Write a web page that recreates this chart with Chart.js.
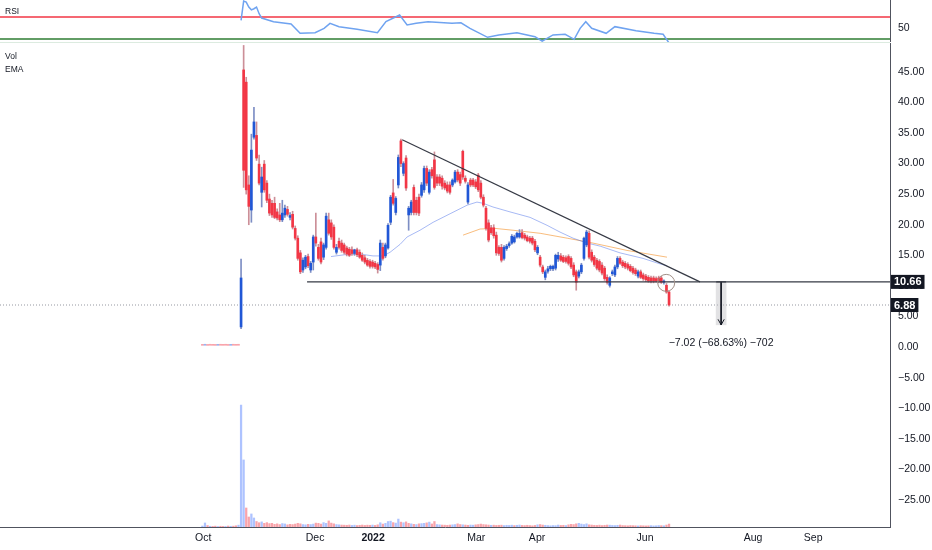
<!DOCTYPE html>
<html>
<head>
<meta charset="utf-8">
<script src="https://cdn.jsdelivr.net/npm/chart.js@4.4.1/dist/chart.umd.min.js"></script>
<style>
  html, body { margin: 0; padding: 0; background: #fff; }
  #wrap { position: relative; width: 932px; height: 550px; overflow: hidden; font-family: "Liberation Sans", Arial, sans-serif; }
  #rsiChart { position: absolute; left: 0; top: 0; }
  #mainChart { position: absolute; left: 0; top: 43px; }
  #sep { position: absolute; left: 0; top: 42px; width: 890px; height: 1px; background: #dcebe0; }
  .pane-label { position: absolute; left: 5px; font-size: 8.5px; color: #131722; }
</style>
</head>
<body>
<div id="wrap">
  <canvas id="rsiChart" width="932" height="42"></canvas>
  <div id="sep"></div>
  <canvas id="mainChart" width="932" height="507"></canvas>
  <div class="pane-label" style="top:6px">RSI</div>
  <div class="pane-label" style="top:51px">Vol</div>
  <div class="pane-label" style="top:64px">EMA</div>
</div>
<script>
// daily candles, first 15 are the tiny pre-listing prints
const FIRST_INDEX = -15;
const PRE_COUNT = 15;

const OPEN = [
  0.31,0.30,0.29,0.31,0.30,0.30,0.29,0.31,0.30,0.32,0.30,0.29,0.31,0.30,0.31,
  3.3,45.3,43.3,26.5,22.4,34.3,34.6,29.9,25.3,29.9,
  26.8,24.2,23.5,23.5,22.1,21.6,20.8,21.6,22.5,21.2,
  21.7,19.4,17.8,15.4,12.6,13.1,14.8,12.6,13.9,18.0,
  16.3,17.2,14.7,16.3,20.8,20.3,19.6,15.5,17.3,17.0,
  16.7,16.2,16.0,15.9,15.3,15.9,15.5,15.0,14.6,14.2,
  14.0,13.9,13.7,13.5,13.4,16.3,14.9,16.2,20.4,25.2,
  22.0,26.5,33.7,28.4,30.9,21.6,22.0,26.1,24.0,24.5,
  24.8,25.7,29.2,25.3,29.0,30.6,27.8,27.8,27.6,26.8,
  26.5,26.5,26.5,27.0,28.6,28.2,32.0,27.6,23.7,27.3,
  27.3,27.0,28.1,26.8,24.5,22.7,20.3,19.5,19.5,18.3,
  16.3,16.3,14.5,16.1,16.6,17.0,17.2,18.0,18.0,18.7,
  18.3,18.0,17.8,17.8,17.3,15.4,14.7,13.1,11.4,12.4,
  12.8,12.8,12.9,14.4,14.9,14.7,14.6,14.8,14.5,13.4,
  12.3,11.6,12.3,14.5,16.7,18.6,15.5,14.7,14.2,14.0,
  13.4,12.9,11.4,10.1,12.0,11.8,13.1,14.5,13.9,13.7,
  13.5,13.2,12.9,12.6,11.6,12.3,11.8,11.6,11.4,11.3,
  11.3,11.2,11.3,11.3,10.6,10.1,9.0
];
const HIGH = [
  0.35,0.35,0.33,0.34,0.33,0.33,0.34,0.34,0.33,0.35,0.33,0.34,0.34,0.33,0.34,
  14.4,49.3,44.1,28.0,34.8,39.2,36.8,31.4,29.4,30.5,
  27.2,25.0,24.0,24.5,22.6,23.5,24.0,23.2,23.0,22.0,
  22.2,19.8,18.2,15.8,14.6,15.0,15.2,14.0,18.3,21.9,
  16.8,17.8,17.0,21.9,21.9,20.8,20.0,16.8,17.8,17.5,
  17.0,16.5,16.3,16.4,16.0,16.2,15.9,15.4,15.0,14.5,
  14.3,14.2,14.0,13.8,17.5,17.0,17.0,20.2,24.8,27.4,
  24.6,31.4,34.0,30.3,31.3,23.0,24.0,26.5,24.5,25.0,
  26.9,29.6,29.6,29.0,29.4,31.9,28.2,28.2,28.0,27.2,
  27.0,27.0,27.5,28.9,29.0,28.6,32.2,28.0,26.9,27.6,
  27.6,27.4,28.4,27.2,24.9,23.0,20.8,19.9,20.0,18.8,
  16.6,16.8,16.6,16.8,17.2,18.4,18.3,18.8,19.2,19.2,
  18.6,18.3,18.1,18.1,17.6,16.6,15.0,13.4,12.6,13.2,
  13.4,13.4,15.2,15.5,15.3,15.0,14.9,15.1,14.8,13.8,
  12.6,12.6,13.7,18.0,19.1,19.0,15.9,15.0,14.5,14.3,
  13.8,13.2,11.8,11.5,12.6,13.4,14.8,14.8,14.2,14.0,
  13.8,13.5,13.2,12.9,12.6,12.6,12.1,11.9,11.7,11.6,
  11.6,11.5,11.6,11.6,11.0,10.4,9.2
];
const LOW = [
  0.26,0.27,0.25,0.27,0.26,0.25,0.26,0.27,0.26,0.27,0.25,0.26,0.27,0.26,0.27,
  3.0,26.1,25.0,20.0,20.4,34.0,30.5,26.5,22.9,25.3,
  23.6,21.5,21.2,21.0,20.8,20.5,20.5,21.2,21.4,20.8,
  19.3,17.5,14.2,12.0,12.2,12.8,13.0,12.2,12.6,16.5,
  14.2,13.6,14.3,16.0,18.3,17.6,16.0,15.2,16.0,15.5,
  15.2,14.9,14.8,15.0,15.0,14.8,14.5,14.0,13.6,13.2,
  12.9,12.9,12.8,12.1,12.5,14.2,14.6,16.0,20.0,23.2,
  21.6,26.0,29.5,28.0,25.6,19.1,21.6,21.6,21.6,21.5,
  24.5,25.3,26.4,25.0,27.6,25.8,26.4,26.4,25.8,25.7,
  25.2,25.0,26.2,26.8,27.0,26.4,27.4,26.8,23.4,26.2,
  26.2,25.9,25.4,24.2,22.9,19.1,17.2,18.4,17.8,15.0,
  15.0,13.9,14.2,15.8,16.3,16.8,17.0,17.8,17.8,17.7,
  17.5,17.2,17.0,16.7,15.6,15.1,13.1,12.0,11.0,12.1,
  12.5,12.5,12.6,14.0,14.0,13.8,13.7,13.4,12.8,11.5,
  9.3,11.3,12.0,14.2,16.4,14.4,13.9,13.2,12.6,12.3,
  11.8,10.9,10.3,9.8,11.7,11.5,12.8,13.5,13.0,12.8,
  12.6,12.3,11.9,11.7,11.3,11.2,10.9,10.7,10.6,10.5,
  10.5,10.6,10.5,10.4,10.3,8.8,6.7
];
const CLOSE = [
  0.29,0.32,0.28,0.30,0.29,0.28,0.31,0.30,0.29,0.30,0.28,0.31,0.30,0.29,0.30,
  11.3,28.9,25.7,23.0,32.2,36.8,30.9,26.8,27.8,25.7,
  24.0,21.9,21.6,21.2,21.1,20.8,21.9,22.7,21.7,21.5,
  19.6,17.8,14.5,12.3,14.2,14.7,13.3,13.7,18.0,17.0,
  14.5,13.9,16.7,21.4,18.6,18.0,16.3,16.3,16.3,15.8,
  15.5,15.2,15.0,15.3,15.9,15.1,14.7,14.2,13.9,13.4,
  13.2,13.2,13.1,12.7,17.0,14.5,16.7,19.9,24.5,23.5,
  24.3,31.0,30.0,30.0,26.0,22.7,23.7,22.0,22.0,21.9,
  26.5,29.2,26.8,28.6,28.0,26.1,26.8,26.8,26.3,26.0,
  25.5,25.3,27.3,28.6,27.3,26.8,27.8,27.1,26.5,26.5,
  26.5,26.2,25.7,24.5,23.2,19.4,17.5,18.7,18.2,15.4,
  15.3,14.2,16.3,16.5,16.9,18.1,18.0,18.6,18.6,17.9,
  17.8,17.4,17.3,17.0,15.9,16.3,13.4,12.3,12.3,12.8,
  13.2,13.2,15.0,15.0,14.2,14.0,14.0,13.7,13.1,11.8,
  10.6,12.3,13.4,17.8,18.8,14.7,14.2,13.5,12.9,12.6,
  12.1,11.2,10.6,11.3,12.3,13.1,14.5,13.7,13.3,13.1,
  12.9,12.5,12.2,12.0,12.3,11.4,11.2,11.0,10.8,10.8,
  10.8,10.8,10.8,10.6,10.8,9.0,6.88
];
const VOLUME = [
  0.8,3.3,1.2,0.6,0.5,0.7,0.4,0.6,0.5,0.5,0.8,0.6,0.7,1.0,1.5,
  100,55,15.6,8.2,10.7,7.4,4.5,3.5,4.2,3.0,
  3.6,2.8,3.0,2.2,2.6,2.0,2.8,2.5,1.8,2.2,
  2.0,2.4,3.0,2.6,2.0,1.8,2.2,2.0,2.4,3.2,
  3.0,2.4,3.6,3.0,5.0,3.2,2.6,2.0,1.8,1.6,
  1.5,1.4,1.6,1.3,1.5,1.2,1.4,1.6,1.3,1.5,
  1.4,1.6,1.3,1.8,3.5,2.4,3.0,4.5,4.8,3.6,
  3.2,6.5,4.0,3.5,4.2,3.0,2.6,2.2,2.0,2.6,
  2.8,3.0,3.4,4.0,2.5,4.5,2.0,1.8,1.6,1.5,
  1.4,1.6,1.8,2.0,2.6,2.0,1.8,1.6,1.4,1.6,
  1.5,1.8,2.0,2.4,2.0,1.8,1.6,1.4,1.5,1.3,
  1.4,1.5,1.2,1.4,1.3,1.5,1.2,1.4,1.6,1.3,
  1.2,1.4,1.2,1.0,1.3,1.8,2.0,1.6,1.4,1.2,
  1.0,1.2,1.1,1.6,1.3,1.4,1.2,1.8,2.2,2.0,
  2.6,3.0,2.4,2.0,2.6,1.8,1.6,1.4,1.3,1.5,
  1.2,1.4,1.6,1.5,1.3,1.2,1.4,1.6,1.2,1.1,
  1.0,1.2,1.1,1.0,0.9,1.1,1.0,0.9,1.0,1.1,
  0.9,1.0,1.2,1.1,1.0,1.6,2.4
];

// moving averages (candle index, price)
const EMA_FAST_AT = [34.9,40.3,46.2,51.2,55.1,57.8,61.7,64.4,69.4,74.5,81.1,87.7,91.5,93.9,97.7,104.3,112.1,118.7,123.7,128.8,134.2,139.3,147,155.9,162.5,165.2];
const EMA_FAST = [14.8,15.1,15.2,14.9,14.9,15.5,16.8,18.0,19.1,20.4,21.8,23.2,23.7,23.5,22.9,22.1,21.2,19.9,18.8,17.8,17.0,16.5,15.4,14.5,13.6,13.3];
const EMA_SLOW_AT = [86.1,92.7,98.5,105.5,116,126.5,136.5,149.7,165.2];
const EMA_SLOW = [18.3,19.3,19.4,19.1,18.6,17.8,17.0,15.8,14.7];

// RSI pane
const RSI_AT = [0,1,2,3,4,5,6,7,8,12.6,19.4,22.9,28.7,32.2,34.5,38,45,52.9,56.2,61.5,64.4,67.9,72.5,81.8,85.3,88.8,95.6,100,107,114,116.8,121,125.7,129.2,131.5,133.7,136,141.6,145,153.2,160.2,163.7,166];
const RSI = [64,99,97,88,83,85,88,76,68,61.5,57.3,40.3,41.5,49.4,58.5,52.4,47.6,41.5,61.5,73.6,55.5,58.5,61.5,58.5,59.5,49.4,33,37.3,41.5,34.2,26,37.3,38.5,29.4,49.4,61.5,49.4,40.3,52.4,45.1,40.3,38.5,22.7];
const RSI_UPPER = 70;
const RSI_LOWER = 30;

// time axis
const DATE_LABELS = ["Oct", "Dec", "2022", "Mar", "Apr", "Jun", "Aug", "Sep"];
const DATE_AT = [-14.7, 28.7, 51.2, 91.2, 114.8, 156.7, 198.6, 221.9];
const X_MIN = -93.5, X_MAX = 251.7;
const Y_MIN = -29.4, Y_MAX = 49.7;
const RSI_MIN = 24.5, RSI_MAX = 100.9;
const VOL_MAX = 397;

// drawings
const SUPPORT = 10.66;
const LAST_PRICE = 6.88;
const SUPPORT_FROM = 25.6;
const TREND = [{x: 62.5, y: 33.9}, {x: 178, y: 10.66}];
const CIRCLE = {x: 164.9, y: 10.5};
const MEASURE_AT = 186.2;
const MEASURE_TOP = 10.66, MEASURE_BOTTOM = 3.64;
const MEASURE_TEXT = "\u22127.02 (\u221268.63%) \u2212702";
const MEASURE_TEXT_AT = 0.65;

const UP = "#2157d6", DOWN = "#f23645";
const PRE_UP = "rgba(33,87,214,0.45)", PRE_DOWN = "rgba(242,54,69,0.45)";
const WICK_UP = "#7d8ec4", WICK_DOWN = "#cc8f98";
const VOL_UP = "rgba(41,98,255,0.38)", VOL_DOWN = "rgba(242,54,69,0.45)";
const AXIS = "#50535e";
const FONT = "'Liberation Sans', Arial, sans-serif";

function fmtPrice(v) {
  const s = Math.abs(v).toFixed(2);
  return v < 0 ? "\u2212" + s : s;
}

const idx = OPEN.map((_, k) => k + FIRST_INDEX);
const up = k => CLOSE[k] >= OPEN[k];
const volUp = k => k === 0 || CLOSE[k] >= CLOSE[k - 1];
const bodyColor = k => k < PRE_COUNT ? (up(k) ? PRE_UP : PRE_DOWN) : (up(k) ? UP : DOWN);

function noPad(width) {
  return s => {
    if (width) s.width = width;
    s.paddingTop = 0; s.paddingBottom = 0; s.paddingLeft = 0; s.paddingRight = 0;
  };
}

const overlay = {
  id: "overlay",
  afterDraw(chart) {
    const {ctx, chartArea} = chart;
    const x = chart.scales.x, y = chart.scales.y;
    ctx.save();
    ctx.font = "10.5px " + FONT;
    ctx.fillStyle = "#131722";
    ctx.textAlign = "center";
    ctx.textBaseline = "middle";
    ctx.fillText(MEASURE_TEXT, x.getPixelForValue(MEASURE_AT), y.getPixelForValue(MEASURE_TEXT_AT));
    [SUPPORT, LAST_PRICE].forEach(v => {
      const py = y.getPixelForValue(v);
      const t = v.toFixed(2);
      ctx.font = "bold 11px " + FONT;
      const w = ctx.measureText(t).width + 6;
      ctx.fillStyle = "#131722";
      ctx.fillRect(chartArea.right + 1, py - 7, w, 14);
      ctx.fillStyle = "#ffffff";
      ctx.textAlign = "left";
      ctx.fillText(t, chartArea.right + 4, py + 0.5);
    });
    ctx.restore();
  }
};

new Chart(document.getElementById("mainChart"), {
  type: "bar",
  data: {
    datasets: [
      {
        label: "Vol",
        yAxisID: "yv",
        data: idx.map((x, k) => ({x, y: VOLUME[k]})),
        backgroundColor: c => volUp(c.dataIndex) ? VOL_UP : VOL_DOWN,
        barThickness: 1.6,
        grouped: false,
        order: 10
      },
      {
        type: "line",
        label: "EMA fast",
        data: EMA_FAST_AT.map((x, k) => ({x, y: EMA_FAST[k]})),
        borderColor: "rgba(60,100,230,0.45)",
        borderWidth: 1,
        pointRadius: 0,
        order: 6
      },
      {
        type: "line",
        label: "EMA slow",
        data: EMA_SLOW_AT.map((x, k) => ({x, y: EMA_SLOW[k]})),
        borderColor: "rgba(245,160,70,0.7)",
        borderWidth: 1,
        pointRadius: 0,
        order: 6
      },
      {
        label: "wick",
        data: idx.map((x, k) => ({x, y: [LOW[k], HIGH[k]]})),
        backgroundColor: c => c.dataIndex < PRE_COUNT ? "rgba(0,0,0,0)" : (up(c.dataIndex) ? WICK_UP : WICK_DOWN),
        barThickness: 1,
        grouped: false,
        order: 4
      },
      {
        label: "body",
        data: idx.map((x, k) => ({x, y: [OPEN[k], CLOSE[k]]})),
        backgroundColor: c => bodyColor(c.dataIndex),
        barThickness: 2,
        minBarLength: 1,
        grouped: false,
        order: 3
      },
      {
        label: "measure",
        data: [{x: MEASURE_AT, y: [MEASURE_BOTTOM, MEASURE_TOP]}],
        backgroundColor: "rgba(190,190,195,0.45)",
        barThickness: 10,
        grouped: false,
        order: 5
      },
      {
        type: "line",
        label: "last",
        data: [{x: X_MIN, y: LAST_PRICE}, {x: X_MAX, y: LAST_PRICE}],
        borderColor: "#9598a1",
        borderWidth: 1,
        borderDash: [1, 2],
        pointRadius: 0,
        order: 7
      },
      {
        type: "line",
        label: "support",
        data: [{x: SUPPORT_FROM, y: SUPPORT}, {x: X_MAX, y: SUPPORT}],
        borderColor: "#363a45",
        borderWidth: 1.2,
        pointRadius: 0,
        order: 1
      },
      {
        type: "line",
        label: "trend",
        data: TREND,
        borderColor: "#363a45",
        borderWidth: 1.2,
        pointRadius: 0,
        order: 1
      },
      {
        type: "line",
        label: "arrow",
        data: [{x: MEASURE_AT, y: MEASURE_TOP}, {x: MEASURE_AT, y: MEASURE_BOTTOM}],
        borderColor: "#131722",
        borderWidth: 1,
        pointRadius: 0,
        order: 1
      },
      {
        type: "line",
        label: "arrow cap",
        data: [{x: MEASURE_AT - 1.9, y: MEASURE_TOP}, {x: MEASURE_AT + 1.9, y: MEASURE_TOP}],
        borderColor: "#131722",
        borderWidth: 1,
        pointRadius: 0,
        order: 1
      },
      {
        type: "line",
        label: "arrow head",
        data: [{x: MEASURE_AT - 1.2, y: MEASURE_BOTTOM + 0.9}, {x: MEASURE_AT, y: MEASURE_BOTTOM}, {x: MEASURE_AT + 1.2, y: MEASURE_BOTTOM + 0.9}],
        borderColor: "#131722",
        borderWidth: 1,
        pointRadius: 0,
        order: 1
      },
      {
        type: "line",
        label: "circle",
        data: [CIRCLE],
        showLine: false,
        pointRadius: 8.5,
        pointBorderWidth: 1,
        pointBorderColor: "#a08e86",
        pointBackgroundColor: "rgba(0,0,0,0)",
        order: 0
      }
    ]
  },
  options: {
    responsive: false,
    animation: false,
    layout: {padding: 0, autoPadding: false},
    plugins: {legend: {display: false}, tooltip: {enabled: false}},
    scales: {
      x: {
        type: "linear",
        min: X_MIN,
        max: X_MAX,
        offset: false,
        grid: {display: false, drawTicks: false},
        border: {display: true, color: AXIS},
        ticks: {
          autoSkip: false,
          maxRotation: 0,
          padding: 5,
          color: "#131722",
          font: c => ({family: FONT, size: 10.5, weight: DATE_LABELS[c.index] === "2022" ? "bold" : "normal"}),
          callback: (v, i) => DATE_LABELS[i]
        },
        afterBuildTicks: s => { s.ticks = DATE_AT.map(v => ({value: v})); },
        afterFit: s => { s.height = 23; s.paddingLeft = 0; s.paddingRight = 0; }
      },
      y: {
        position: "right",
        min: Y_MIN,
        max: Y_MAX,
        grid: {display: false, drawTicks: false},
        border: {display: true, color: AXIS},
        ticks: {
          stepSize: 5,
          includeBounds: false,
          padding: 8,
          color: "#131722",
          font: {family: FONT, size: 10.5},
          callback: v => fmtPrice(v)
        },
        afterFit: noPad(42)
      },
      yv: {display: false, min: 0, max: VOL_MAX}
    }
  },
  plugins: [overlay]
});

new Chart(document.getElementById("rsiChart"), {
  type: "line",
  data: {
    datasets: [
      {
        data: RSI_AT.map((x, k) => ({x, y: RSI[k]})),
        borderColor: "#6fa3f0",
        borderWidth: 1.5,
        pointRadius: 0
      },
      {
        data: [{x: X_MIN, y: RSI_UPPER}, {x: X_MAX, y: RSI_UPPER}],
        borderColor: "#f23645",
        borderWidth: 1.5,
        pointRadius: 0
      },
      {
        data: [{x: X_MIN, y: RSI_LOWER}, {x: X_MAX, y: RSI_LOWER}],
        borderColor: "#2e7d32",
        borderWidth: 1.3,
        pointRadius: 0
      }
    ]
  },
  options: {
    responsive: false,
    animation: false,
    layout: {padding: 0, autoPadding: false},
    plugins: {legend: {display: false}, tooltip: {enabled: false}},
    scales: {
      x: {type: "linear", min: X_MIN, max: X_MAX, display: false},
      y: {
        position: "right",
        min: RSI_MIN,
        max: RSI_MAX,
        grid: {display: false, drawTicks: false},
        border: {display: true, color: AXIS},
        ticks: {padding: 8, color: "#131722", font: {family: FONT, size: 10.5}},
        afterBuildTicks: s => { s.ticks = [{value: 50}]; },
        afterFit: noPad(42)
      }
    }
  }
});
</script>
</body>
</html>
